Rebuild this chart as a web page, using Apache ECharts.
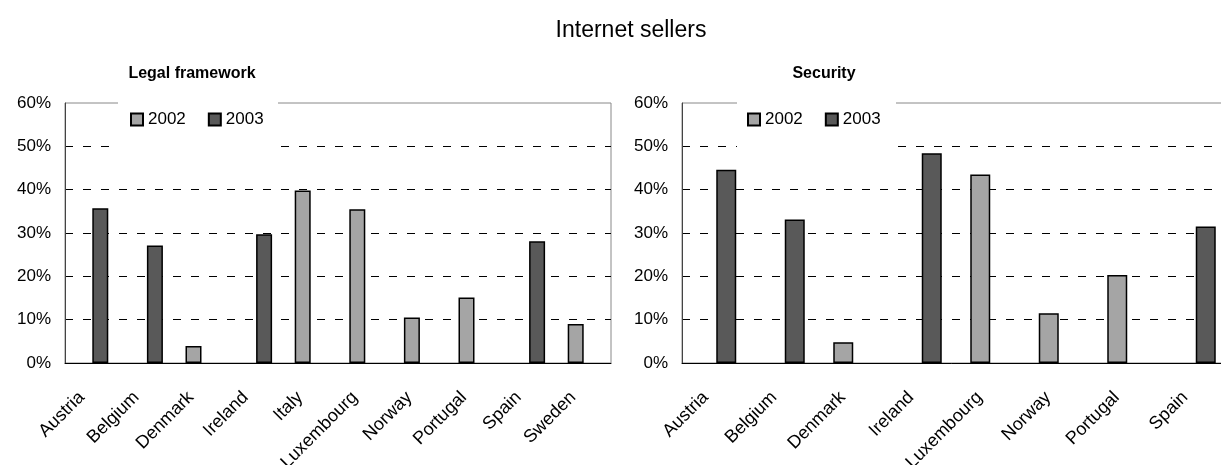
<!DOCTYPE html>
<html>
<head>
<meta charset="utf-8">
<script src="https://cdn.jsdelivr.net/npm/echarts@6/dist/echarts.min.js"></script>
<style>
  html, body { margin: 0; padding: 0; background: #fff; }
  #chart { width: 1221px; height: 465px; }
</style>
</head>
<body>
<div id="chart"></div>
<script>
// Share of Internet sellers (%) citing each barrier, by country and year
const legalCountries = ['Austria', 'Belgium', 'Denmark', 'Ireland', 'Italy', 'Luxembourg', 'Norway', 'Portugal', 'Spain', 'Sweden'];
const legal2002 = [null, null, 3.9, null, 39.8, 35.5, 10.5, 15.1, null, 9.0];
const legal2003 = [35.7, 27.1, null, 29.7, null, null, null, null, 28.1, null];

const securityCountries = ['Austria', 'Belgium', 'Denmark', 'Ireland', 'Luxembourg', 'Norway', 'Portugal', 'Spain'];
const security2002 = [null, null, 4.8, null, 43.5, 11.5, 20.3, null];
const security2003 = [44.6, 33.1, null, 48.4, null, null, null, 31.5];

const yearNames = ['2002', '2003'];
const yTicks = [0, 10, 20, 30, 40, 50, 60];

const FONT = "'Liberation Sans', Arial, Helvetica, sans-serif";
const LIGHT = '#a5a5a5';
const DARK = '#595959';

const chart = echarts.init(document.getElementById('chart'), null, { renderer: 'canvas' });

function xAxisFor(gridIndex, cats) {
  return {
    type: 'category',
    gridIndex: gridIndex,
    data: cats,
    axisLine: { lineStyle: { color: '#000', width: 1 } },
    axisTick: { show: false },
    axisLabel: {
      interval: 0,
      rotate: 45,
      margin: 21,
      padding: [0, 15, 0, 0],
      color: '#000',
      fontFamily: FONT,
      fontSize: 18
    }
  };
}

function yAxisFor(gridIndex) {
  return {
    type: 'value',
    gridIndex: gridIndex,
    min: yTicks[0],
    max: yTicks[yTicks.length - 1],
    interval: yTicks[1] - yTicks[0],
    axisLine: { show: true, lineStyle: { color: '#444', width: 1 } },
    axisTick: { show: false },
    axisLabel: {
      formatter: '{value}%',
      margin: 14,
      color: '#000',
      fontFamily: FONT,
      fontSize: 17
    },
    splitLine: {
      show: true,
      showMinLine: false,
      showMaxLine: false,
      lineStyle: { color: '#000', width: 1, type: [8, 10] }
    }
  };
}

function barSeries(name, axisIndex, data, color, width) {
  return {
    name: name,
    type: 'bar',
    xAxisIndex: axisIndex,
    yAxisIndex: axisIndex,
    data: data,
    barWidth: width,
    barGap: '0%',
    itemStyle: { color: color, borderColor: '#000', borderWidth: 1.5 },
    emphasis: { disabled: true }
  };
}

function legendFor(left) {
  return {
    data: yearNames.map(function (n) { return { name: n, icon: 'rect' }; }),
    left: left,
    top: 111,
    padding: 0,
    itemWidth: 12,
    itemHeight: 12,
    itemGap: 22,
    z: 6,
    selectedMode: false,
    textStyle: { color: '#000', fontFamily: FONT, fontSize: 17 }
  };
}

const gridBase = { top: 103, height: 260, show: true, borderColor: '#888', borderWidth: 1, containLabel: false, outerBoundsMode: 'none' };

chart.setOption({
  animation: false,
  backgroundColor: '#fff',
  grid: [
    Object.assign({ left: 65, width: 546 }, gridBase),
    Object.assign({ left: 682, width: 548 }, gridBase)
  ],
  xAxis: [xAxisFor(0, legalCountries), xAxisFor(1, securityCountries)],
  yAxis: [yAxisFor(0), yAxisFor(1)],
  legend: [legendFor(130), legendFor(747)],
  series: [
    barSeries(yearNames[0], 0, legal2002, LIGHT, 16),
    barSeries(yearNames[1], 0, legal2003, DARK, 16),
    barSeries(yearNames[0], 1, security2002, LIGHT, 20),
    barSeries(yearNames[1], 1, security2003, DARK, 20)
  ],
  graphic: [
    // white panels behind the legends, interrupting the frame and grid lines
    { type: 'rect', z: 3, shape: { x: 118, y: 97, width: 160, height: 55 }, style: { fill: '#fff' } },
    { type: 'rect', z: 3, shape: { x: 737, y: 97, width: 159, height: 55 }, style: { fill: '#fff' } },
    { type: 'text', z: 5, x: 631, y: 31, style: { text: 'Internet sellers', align: 'center', verticalAlign: 'middle', fontFamily: FONT, fontSize: 23, fill: '#000' } },
    { type: 'text', z: 5, x: 192, y: 74, style: { text: 'Legal framework', align: 'center', verticalAlign: 'middle', fontFamily: FONT, fontSize: 16, fontWeight: 'bold', fill: '#000' } },
    { type: 'text', z: 5, x: 824, y: 74, style: { text: 'Security', align: 'center', verticalAlign: 'middle', fontFamily: FONT, fontSize: 16, fontWeight: 'bold', fill: '#000' } }
  ]
});
</script>
</body>
</html>
